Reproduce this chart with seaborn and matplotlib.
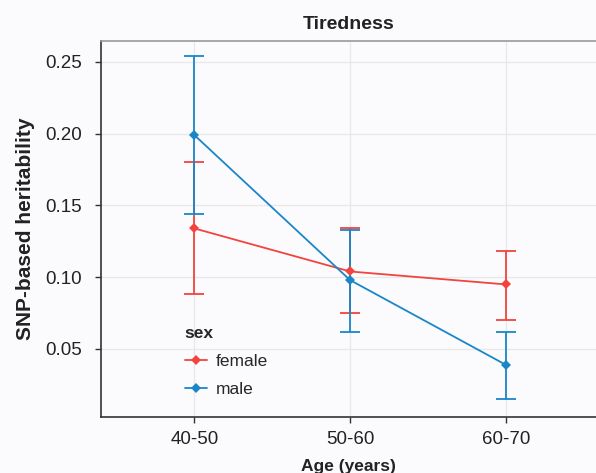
import pandas as pd
import numpy as np
import seaborn as sns
import matplotlib.pyplot as plt

# datos
edades = ["40-50", "50-60", "60-70"]
h_female = [0.134, 0.104, 0.095]
low_female = [0.088, 0.075, 0.070]
up_female = [0.180, 0.1345, 0.118]
h_male = [0.199, 0.098, 0.039]
low_male = [0.144, 0.062, 0.015]
up_male = [0.254, 0.133, 0.062]

df = pd.DataFrame({
    "age": edades * 2,
    "h2": h_female + h_male,
    "low": low_female + low_male,
    "up": up_female + up_male,
    "sex": ["female"] * 3 + ["male"] * 3,
})

colores = {"female": "#f2443d", "male": "#1a86c8"}
fondo = "#fbfbfd"

sns.set_theme(style="white")
plt.rcParams["font.family"] = ["Liberation Sans", "DejaVu Sans"]

fig = plt.figure(figsize=(5.96, 4.73), dpi=100, facecolor=fondo)
ax = fig.add_axes([0.1695, 0.1184, 0.8305, 0.7949])
ax.set_facecolor(fondo)

sns.lineplot(data=df, x="age", y="h2", hue="sex", palette=colores, marker="D",
             markersize=5, markeredgewidth=0, linewidth=1.3, ax=ax, zorder=3)

# barras de error
for sexo, g in df.groupby("sex"):
    ax.errorbar(g["age"], g["h2"], yerr=[g["h2"] - g["low"], g["up"] - g["h2"]],
                fmt="none", ecolor=colores[sexo], elinewidth=1.3, capsize=7,
                capthick=1.3, zorder=2)

ax.set_xlim(-0.6, 2.58)
ax.set_ylim(0.0026, 0.2646)
ax.set_yticks([0.05, 0.10, 0.15, 0.20, 0.25])
ax.set_yticklabels(["0.05", "0.10", "0.15", "0.20", "0.25"])

ax.grid(True, color="#e8e8e8", linewidth=0.9)
ax.set_axisbelow(True)
for s in ["left", "bottom"]:
    ax.spines[s].set_color("#333333")
    ax.spines[s].set_linewidth(1.2)
ax.spines["top"].set_color("#999999")
ax.spines["top"].set_linewidth(1.2)
ax.spines["right"].set_visible(False)
ax.tick_params(axis="both", direction="out", length=4, width=1, color="#333333",
               labelsize=13.5, labelcolor="#222222", left=True, bottom=True)
ax.tick_params(axis="y", pad=10)
ax.tick_params(axis="x", pad=6)

ax.set_title("Tiredness", fontsize=14, fontweight="bold", color="#222222", pad=9)
ax.set_xlabel("Age (years)", fontsize=12.5, fontweight="bold", color="#222222", labelpad=8)
ax.set_ylabel("SNP-based heritability", fontsize=15, fontweight="bold", color="#222222", labelpad=7)

leg = ax.legend(title="sex", loc="lower left", bbox_to_anchor=(0.155, 0.035), frameon=False,
                fontsize=12.5, handlelength=1.3, handletextpad=0.5, labelspacing=0.75,
                borderaxespad=0)
leg.get_title().set_fontweight("bold")
leg.get_title().set_fontsize(12.5)
leg._legend_box.align = "left"

plt.savefig("out.png", dpi=100, facecolor=fondo)
